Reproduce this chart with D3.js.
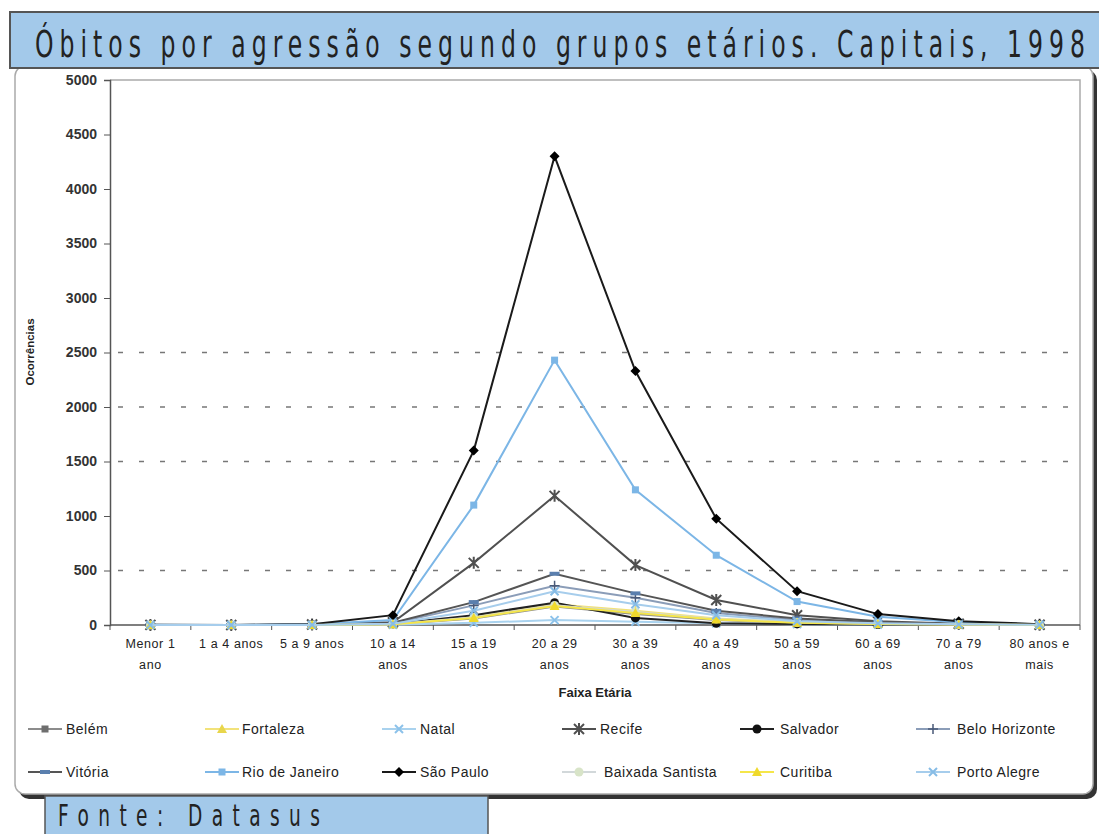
<!DOCTYPE html>
<html>
<head>
<meta charset="utf-8">
<script src="https://cdn.jsdelivr.net/npm/d3@7"></script>
<style>
  body { margin: 0; background: #fff; }
  svg { display: block; }
  text { font-family: "Liberation Sans", Arial, sans-serif; }
</style>
</head>
<body>
<svg id="chart"></svg>
<script>
const w = 1099;
const h = 834;

const categories = [
  ["Menor 1", "ano"], ["1 a 4 anos"], ["5 a 9 anos"], ["10 a 14", "anos"],
  ["15 a 19", "anos"], ["20 a 29", "anos"], ["30 a 39", "anos"], ["40 a 49", "anos"],
  ["50 a 59", "anos"], ["60 a 69", "anos"], ["70 a 79", "anos"], ["80 anos e", "mais"]
];
const yTicks = [0, 500, 1000, 1500, 2000, 2500, 3000, 3500, 4000, 4500, 5000];
const gridTicks = [500, 1500, 2000, 2500];

const belem      = [0, 0, 1, 6, 60, 170, 100, 45, 20, 8, 3, 1];
const fortaleza  = [0, 0, 1, 8, 75, 190, 130, 60, 25, 12, 5, 1];
const natal      = [0, 0, 0, 3, 20, 45, 30, 15, 8, 4, 2, 1];
const recife     = [1, 0, 4, 25, 570, 1185, 550, 230, 90, 35, 12, 3];
const salvador   = [0, 0, 1, 10, 90, 205, 65, 15, 10, 5, 2, 1];
const beloHoriz  = [0, 0, 2, 15, 180, 360, 250, 110, 45, 20, 8, 2];
const vitoria    = [0, 0, 2, 20, 210, 470, 290, 130, 60, 25, 10, 2];
const rio        = [2, 1, 6, 45, 1100, 2430, 1240, 640, 215, 75, 25, 6];
const saoPaulo   = [2, 1, 8, 90, 1600, 4300, 2330, 975, 310, 100, 35, 8];
const baixada    = [0, 0, 1, 8, 70, 180, 120, 55, 22, 10, 4, 1];
const curitiba   = [0, 0, 1, 6, 65, 175, 110, 50, 20, 10, 4, 1];
const portoAleg  = [0, 0, 1, 12, 130, 310, 190, 90, 35, 15, 6, 2];

const series = [
  { name: "Belém", values: belem, color: "#8c8c8c", mark: "square", mcolor: "#6e6e6e" },
  { name: "Fortaleza", values: fortaleza, color: "#f2e27a", mark: "triangle", mcolor: "#e8d64c" },
  { name: "Natal", values: natal, color: "#a9d2ee", mark: "x", mcolor: "#8cc2ea" },
  { name: "Recife", values: recife, color: "#505050", mark: "star", mcolor: "#505050" },
  { name: "Salvador", values: salvador, color: "#222", mark: "circle", mcolor: "#111" },
  { name: "Belo Horizonte", values: beloHoriz, color: "#8b9db8", mark: "plus", mcolor: "#4a5a78" },
  { name: "Vitória", values: vitoria, color: "#555", mark: "dash", mcolor: "#5a7fae" },
  { name: "Rio de Janeiro", values: rio, color: "#7cb6e6", mark: "square", mcolor: "#7cb6e6" },
  { name: "São Paulo", values: saoPaulo, color: "#1a1a1a", mark: "diamond", mcolor: "#000" },
  { name: "Baixada Santista", values: baixada, color: "#d2d8da", mark: "circle", mcolor: "#d8e4c8" },
  { name: "Curitiba", values: curitiba, color: "#f5e64a", mark: "triangle", mcolor: "#efd92c" },
  { name: "Porto Alegre", values: portoAleg, color: "#a6cdec", mark: "x", mcolor: "#86bce6" }
];

var svg = d3.select("#chart").attr("width", w).attr("height", h);

// chart panel with shadow
svg.append("rect").attr("x", 19).attr("y", 70).attr("width", 1078).attr("height", 729)
   .attr("rx", 10).attr("fill", "#333");
svg.append("rect").attr("x", 15).attr("y", 66).attr("width", 1078).attr("height", 728)
   .attr("rx", 10).attr("fill", "#fff").attr("stroke", "#aaa").attr("stroke-width", 1.5);

// title bar (narrow lettering, widely spaced)
svg.append("rect").attr("x", 10).attr("y", 12).attr("width", 1095).attr("height", 56)
   .attr("fill", "#a3c9ea").attr("stroke", "#555").attr("stroke-width", 2);
svg.append("text").attr("transform", "translate(35,57) scale(0.62,1)")
   .attr("font-size", 38)
   .style("font-family", "'DejaVu Sans', sans-serif")
   .attr("textLength", 1050 / 0.62).attr("lengthAdjust", "spacing")
   .attr("fill", "#222")
   .text("Óbitos por agressão segundo grupos etários. Capitais, 1998");

const plotLeft = 110, plotRight = 1080, plotTop = 80, plotBottom = 625;

const x = d3.scaleBand().domain(d3.range(categories.length)).range([plotLeft, plotRight]);
const y = d3.scaleLinear().domain([0, 5000]).range([plotBottom, plotTop]);
const cx = i => x(i) + x.bandwidth() / 2;

// plot border (top and right)
svg.append("path")
   .attr("d", `M${plotLeft},${plotTop}H${plotRight}V${plotBottom}`)
   .attr("fill", "none").attr("stroke", "#aaa").attr("stroke-width", 1.5);

// gridlines
svg.append("g").selectAll("line").data(gridTicks).join("line")
   .attr("x1", plotLeft + 8).attr("x2", plotRight)
   .attr("y1", d => y(d)).attr("y2", d => y(d))
   .attr("stroke", "#777").attr("stroke-width", 1.3).attr("stroke-dasharray", "5,16");

// y axis
const yAxis = d3.axisLeft(y).tickValues(yTicks).tickFormat(d3.format("d")).tickSize(6).tickPadding(7);
const gy = svg.append("g").attr("transform", `translate(${plotLeft},0)`).call(yAxis);
gy.select(".domain").attr("stroke", "#555").attr("stroke-width", 1.5);
gy.selectAll(".tick line").attr("stroke", "#555");
gy.selectAll(".tick text").attr("font-size", 14).attr("font-weight", "bold").attr("fill", "#333")
  .style("font-family", "'Liberation Sans', Arial, sans-serif");

// x axis
const gx = svg.append("g").attr("transform", `translate(0,${plotBottom})`);
gx.append("line").attr("x1", plotLeft).attr("x2", plotRight).attr("stroke", "#555").attr("stroke-width", 1.5);
gx.selectAll("line.tk").data(d3.range(categories.length + 1)).join("line").attr("class", "tk")
  .attr("x1", i => plotLeft + i * x.bandwidth()).attr("x2", i => plotLeft + i * x.bandwidth())
  .attr("y1", 0).attr("y2", 5).attr("stroke", "#555");
const lab = gx.selectAll("text.cat").data(categories).join("text").attr("class", "cat")
  .attr("x", (d, i) => cx(i)).attr("text-anchor", "middle")
  .attr("font-size", 12.5).attr("letter-spacing", 0.6).attr("fill", "#222");
lab.each(function(d) {
  d.forEach((ln, k) => {
    d3.select(this).append("tspan").attr("x", d3.select(this).attr("x"))
      .attr("y", 23 + k * 21).text(ln);
  });
});

// axis titles
svg.append("text").attr("x", 595).attr("y", 697).attr("text-anchor", "middle")
   .attr("font-size", 13).attr("font-weight", "bold").attr("fill", "#222").text("Faixa Etária");
svg.append("text").attr("transform", "translate(34,352) rotate(-90)").attr("text-anchor", "middle")
   .attr("font-size", 11.5).attr("font-weight", "bold").attr("fill", "#222").text("Ocorrências");

function marker(g, s, px, py) {
  const c = s.mcolor;
  if (s.mark === "square") {
    g.append("rect").attr("x", px - 3.5).attr("y", py - 3.5).attr("width", 7).attr("height", 7).attr("fill", c);
  } else if (s.mark === "triangle") {
    g.append("path").attr("d", `M${px},${py - 5}L${px + 5},${py + 4}L${px - 5},${py + 4}Z`).attr("fill", c);
  } else if (s.mark === "x") {
    g.append("path").attr("d", `M${px - 4},${py - 4}L${px + 4},${py + 4}M${px + 4},${py - 4}L${px - 4},${py + 4}`)
     .attr("stroke", c).attr("stroke-width", 2);
  } else if (s.mark === "star") {
    g.append("path").attr("d", `M${px - 5},${py - 5}L${px + 5},${py + 5}M${px + 5},${py - 5}L${px - 5},${py + 5}M${px},${py - 6}V${py + 6}`)
     .attr("stroke", c).attr("stroke-width", 2);
  } else if (s.mark === "circle") {
    g.append("circle").attr("cx", px).attr("cy", py).attr("r", 4.5).attr("fill", c);
  } else if (s.mark === "plus") {
    g.append("path").attr("d", `M${px - 5},${py}H${px + 5}M${px},${py - 5}V${py + 5}`)
     .attr("stroke", c).attr("stroke-width", 1.5);
  } else if (s.mark === "dash") {
    g.append("rect").attr("x", px - 5).attr("y", py - 2).attr("width", 10).attr("height", 4).attr("fill", c);
  } else if (s.mark === "diamond") {
    g.append("path").attr("d", `M${px},${py - 5}L${px + 5},${py}L${px},${py + 5}L${px - 5},${py}Z`).attr("fill", c);
  }
}

const line = d3.line().x((d, i) => cx(i)).y(d => y(d));
const plot = svg.append("g");
series.forEach(s => {
  const g = plot.append("g");
  g.append("path").attr("d", line(s.values)).attr("fill", "none")
   .attr("stroke", s.color).attr("stroke-width", 2);
  s.values.forEach((v, i) => marker(g, s, cx(i), y(v)));
});

// legend
const legX = [28, 205, 382, 562, 740, 916];
const legTextX = [66, 242, 420, 600, 780, 957];
const legend = svg.append("g");
series.forEach((s, k) => {
  const col = k % 6, row = Math.floor(k / 6);
  const ly = 729 + row * 43;
  let sx = legX[col], tx = legTextX[col];
  if (s.name === "Baixada Santista") { sx = 562; tx = 604; }
  const g = legend.append("g");
  g.append("line").attr("x1", sx).attr("x2", sx + 34).attr("y1", ly).attr("y2", ly)
   .attr("stroke", s.color).attr("stroke-width", 2);
  marker(g, s, sx + 17, ly);
  g.append("text").attr("x", tx).attr("y", ly + 5).attr("font-size", 14)
   .attr("letter-spacing", 0.5).attr("fill", "#222").text(s.name);
});

// footer
svg.append("rect").attr("x", 45).attr("y", 796).attr("width", 443).attr("height", 44)
   .attr("fill", "#a3c9ea").attr("stroke", "#555").attr("stroke-width", 1.5);
svg.append("text").attr("transform", "translate(58,826) scale(0.62,1)").attr("font-size", 30)
   .style("font-family", "'DejaVu Sans', sans-serif")
   .attr("textLength", 262 / 0.62).attr("lengthAdjust", "spacing")
   .attr("fill", "#222").text("Fonte: Datasus");
</script>
</body>
</html>
